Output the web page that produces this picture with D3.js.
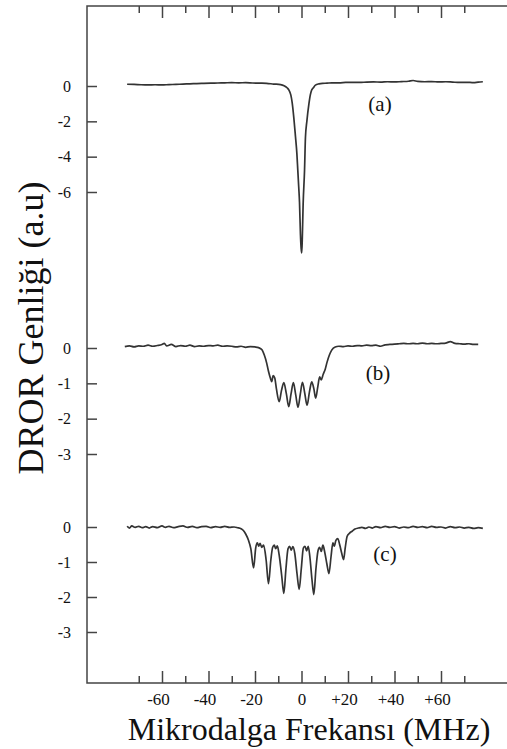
<!DOCTYPE html>
<html>
<head>
<meta charset="utf-8">
<script src="https://cdn.jsdelivr.net/npm/d3@7"></script>
<style>
  html, body { margin: 0; padding: 0; background: #fff; }
  svg { display: block; }
  text { font-family: "Liberation Serif", "Times New Roman", serif; fill: #111; }
</style>
</head>
<body>
<svg id="chart" width="507" height="749"></svg>
<script>
// Microwave frequency offset (MHz) and DROR amplitude (a.u) for the three spectra
const specA = [
  [-75, 0.10], [-72, 0.09], [-69, 0.07], [-66, 0.06], [-63, 0.07], [-60, 0.06], [-57, 0.08],
  [-54, 0.09], [-51, 0.11], [-48, 0.12], [-45, 0.14], [-42, 0.15], [-39, 0.16], [-36, 0.17],
  [-33, 0.18], [-30, 0.19], [-27, 0.18], [-24, 0.19], [-21, 0.17], [-18, 0.16], [-15, 0.15],
  [-12, 0.11], [-9, 0.08], [-7.5, 0.02], [-6.2, -0.1], [-5.4, -0.23], [-4.6, -0.5], [-4.0, -0.95],
  [-3.3, -1.8], [-2.6, -2.85], [-2.0, -3.8], [-1.6, -4.75], [-1.2, -5.7], [-0.85, -6.6],
  [-0.45, -8.4], [-0.15, -9.2], [0.1, -9.45], [0.35, -8.6], [0.7, -6.7], [1.3, -4.8], [1.7, -2.9],
  [2.3, -2.0], [3.2, -1.0], [3.8, -0.5], [4.3, -0.25], [5.0, -0.12], [6.0, 0.05], [7.5, 0.12],
  [9, 0.15], [11, 0.16], [13, 0.18], [16, 0.18], [19, 0.2], [22, 0.21], [25, 0.2], [28, 0.22],
  [31, 0.23], [34, 0.22], [37, 0.24], [40, 0.23], [43, 0.25], [46, 0.27], [48, 0.31], [50, 0.26],
  [53, 0.24], [56, 0.25], [59, 0.23], [62, 0.24], [65, 0.22], [68, 0.2], [71, 0.21], [74, 0.19],
  [76, 0.22], [78, 0.24]
];

const specB = [
  [-76, 0.04], [-74, 0.06], [-72, 0.03], [-70, 0.06], [-68, 0.05], [-66, 0.08], [-64, 0.05],
  [-62, 0.07], [-60, 0.1], [-59, 0.13], [-58, 0.06], [-56, 0.1], [-54, 0.04], [-52, 0.07],
  [-50, 0.05], [-48, 0.08], [-46, 0.04], [-44, 0.06], [-42, 0.05], [-40, 0.07], [-38, 0.06],
  [-36, 0.08], [-34, 0.05], [-32, 0.06], [-30, 0.05], [-28, 0.03], [-26, 0.05], [-24, 0.02],
  [-22, 0.04], [-20, 0.03], [-18.5, 0.01], [-17, -0.05], [-16, -0.2], [-15, -0.42],
  [-14.2, -0.66], [-13.4, -0.85], [-12.8, -0.95], [-12.2, -0.78], [-11.5, -0.85], [-10.8, -1.15],
  [-9.6, -1.52], [-8.6, -1.2], [-7.6, -0.98], [-6.5, -1.3], [-5.5, -1.66], [-4.5, -1.3],
  [-3.5, -0.98], [-2.5, -1.32], [-1.5, -1.68], [-0.5, -1.3], [0.4, -0.97], [1.4, -1.28],
  [2.4, -1.62], [3.4, -1.25], [4.4, -0.96], [5.3, -1.15], [6.1, -1.42], [7.0, -1.1],
  [7.8, -0.82], [8.5, -0.9], [9.3, -0.75], [10.2, -0.6], [11.0, -0.4], [12, -0.2], [13, -0.06],
  [14.5, 0.03], [16, 0.05], [18, 0.04], [20, 0.06], [22, 0.05], [24, 0.07], [26, 0.06],
  [28, 0.08], [30, 0.07], [32, 0.08], [34, 0.05], [36, 0.09], [38, 0.1], [40, 0.11], [42, 0.12],
  [44, 0.13], [46, 0.12], [48, 0.13], [50, 0.12], [52, 0.14], [54, 0.12], [56, 0.13], [58, 0.12],
  [60, 0.13], [62, 0.14], [64, 0.18], [66, 0.13], [68, 0.12], [70, 0.11], [72, 0.12], [74, 0.1],
  [76, 0.1]
];

const specC = [
  [-75, 0.02], [-74, -0.03], [-73, 0.03], [-71.5, -0.01], [-70, 0.02], [-68.5, -0.02],
  [-67, 0.01], [-65.5, -0.03], [-64, 0.01], [-62, -0.02], [-60, 0.03], [-58.5, -0.01],
  [-57, 0.02], [-55, -0.02], [-53, 0.01], [-51, 0.03], [-49, -0.01], [-47, 0.02], [-45, -0.02],
  [-43, 0.01], [-41, 0.02], [-39, -0.02], [-37, 0.01], [-35, -0.01], [-33, 0.02], [-31, -0.01],
  [-29, 0.0], [-27.5, -0.02], [-26, -0.05], [-25, -0.1], [-24, -0.2], [-22.8, -0.38],
  [-21.8, -0.62], [-20.6, -1.17], [-19.7, -0.6], [-19.0, -0.45], [-18.4, -0.55], [-17.8, -0.47],
  [-17.1, -0.58], [-16.3, -0.52], [-15.2, -0.95], [-14.2, -1.62], [-13.2, -0.95], [-12.4, -0.58],
  [-11.7, -0.52], [-11.1, -0.62], [-10.4, -0.54], [-9.6, -0.8], [-8.5, -1.4], [-7.6, -1.9],
  [-6.7, -1.2], [-5.8, -0.62], [-5.1, -0.55], [-4.4, -0.66], [-3.7, -0.56], [-2.9, -0.75],
  [-1.9, -1.35], [-1.0, -1.78], [-0.1, -1.2], [0.8, -0.6], [1.5, -0.55], [2.2, -0.68],
  [2.9, -0.55], [3.6, -0.85], [4.5, -1.5], [5.3, -1.93], [6.2, -1.2], [7.1, -0.68], [7.8, -0.58],
  [8.5, -0.7], [9.2, -0.52], [10.0, -0.72], [10.9, -1.05], [11.8, -1.33], [12.7, -0.85],
  [13.5, -0.45], [14.1, -0.55], [14.8, -0.38], [15.6, -0.33], [16.4, -0.5], [17.3, -0.75],
  [18.1, -0.93], [18.8, -0.6], [19.6, -0.27], [20.6, -0.18], [21.8, -0.12], [23, -0.06],
  [24.5, -0.03], [26, -0.01], [27.5, -0.04], [29, 0.0], [30.5, -0.03], [32, 0.01], [34, -0.02],
  [36, 0.02], [38, -0.01], [40, 0.01], [42, -0.03], [44, 0.0], [46, -0.02], [48, 0.02],
  [50, -0.01], [52, 0.01], [54, -0.02], [56, 0.02], [58, -0.01], [60, 0.0], [62, -0.03],
  [64, 0.01], [66, -0.02], [68, 0.0], [70, -0.03], [72, -0.01], [74, -0.04], [76, -0.02],
  [78, -0.04]
];

// Axis ticks
const xMajorTicks = [-60, -40, -20, 0, 20, 40, 60];
const xMinorTicks = [-70, -50, -30, -10, 10, 30, 50, 70];
const yTicksA = [0, -2, -4, -6];
const yTicksB = [0, -1, -2, -3];
const yTicksC = [0, -1, -2, -3];
const panelLabels = ["(a)", "(b)", "(c)"];

const svg = d3.select("#chart");
const axisColor = "#444";
const lineColor = "#333";

const frame = { left: 87, top: 6, bottom: 683, right: 520 };

const x = d3.scaleLinear().domain([-60, 60]).range([162, 441]);

// One vertical scale per spectrum
const panels = [
  { data: specA, ticks: yTicksA, y: d3.scaleLinear().domain([0, -6]).range([86, 192]), label: panelLabels[0], lx: 380, ly: 111 },
  { data: specB, ticks: yTicksB, y: d3.scaleLinear().domain([0, -3]).range([348, 454]), label: panelLabels[1], lx: 378, ly: 380 },
  { data: specC, ticks: yTicksC, y: d3.scaleLinear().domain([0, -3]).range([527, 632]), label: panelLabels[2], lx: 385, ly: 561 }
];

// Frame lines
svg.append("path")
  .attr("d", `M${frame.right},${frame.top}H${frame.left}V${frame.bottom}H${frame.right}`)
  .attr("fill", "none").attr("stroke", axisColor).attr("stroke-width", 1.5);

function styleAxis(g) {
  g.select(".domain").remove();
  g.selectAll(".tick line").attr("stroke", axisColor).attr("stroke-width", 1.5);
}

// Top ticks (inward)
svg.append("g").attr("transform", `translate(0,${frame.top})`)
  .call(d3.axisTop(x).tickValues(xMajorTicks).tickSizeInner(-12).tickSizeOuter(0).tickFormat(""))
  .call(styleAxis);
svg.append("g").attr("transform", `translate(0,${frame.top})`)
  .call(d3.axisTop(x).tickValues(xMinorTicks).tickSizeInner(-7).tickSizeOuter(0).tickFormat(""))
  .call(styleAxis);

// Bottom ticks (inward) with labels
const bottomAxis = svg.append("g").attr("transform", `translate(0,${frame.bottom})`)
  .call(d3.axisBottom(x).tickValues(xMajorTicks).tickSizeInner(-12).tickSizeOuter(0).tickPadding(10)
    .tickFormat(d => d > 0 ? "+" + d : String(d)))
  .call(styleAxis);
bottomAxis.selectAll(".tick text")
  .attr("font-size", 17).attr("fill", "#111")
  .attr("font-family", '"Liberation Serif", "Times New Roman", serif')
  .attr("dx", d => d === 0 ? 0 : -4);
svg.append("g").attr("transform", `translate(0,${frame.bottom})`)
  .call(d3.axisBottom(x).tickValues(xMinorTicks).tickSizeInner(-7).tickSizeOuter(0).tickFormat(""))
  .call(styleAxis);

// Spectra with their own left axes
panels.forEach(p => {
  const ax = svg.append("g").attr("transform", `translate(${frame.left},0)`)
    .call(d3.axisLeft(p.y).tickValues(p.ticks).tickSizeInner(-10).tickSizeOuter(0).tickPadding(16)
      .tickFormat(d => String(d)))
    .call(styleAxis);
  ax.selectAll(".tick text")
    .attr("font-size", 16).attr("fill", "#111")
    .attr("font-family", '"Liberation Serif", "Times New Roman", serif');

  const line = d3.line()
    .x(d => x(d[0]))
    .y(d => p.y(d[1]))
    .curve(d3.curveMonotoneX);

  svg.append("path")
    .datum(p.data)
    .attr("d", line)
    .attr("fill", "none")
    .attr("stroke", lineColor)
    .attr("stroke-width", 1.7)
    .attr("stroke-linejoin", "round");

  svg.append("text")
    .attr("x", p.lx).attr("y", p.ly)
    .attr("text-anchor", "middle")
    .attr("font-size", 21)
    .text(p.label);
});

// Axis titles
svg.append("text")
  .attr("transform", "translate(43,328) rotate(-90)")
  .attr("text-anchor", "middle")
  .attr("font-size", 36)
  .text("DROR Genliği (a.u)");

svg.append("text")
  .attr("x", 309).attr("y", 740)
  .attr("text-anchor", "middle")
  .attr("font-size", 32)
  .text("Mikrodalga Frekansı (MHz)");
</script>
</body>
</html>
